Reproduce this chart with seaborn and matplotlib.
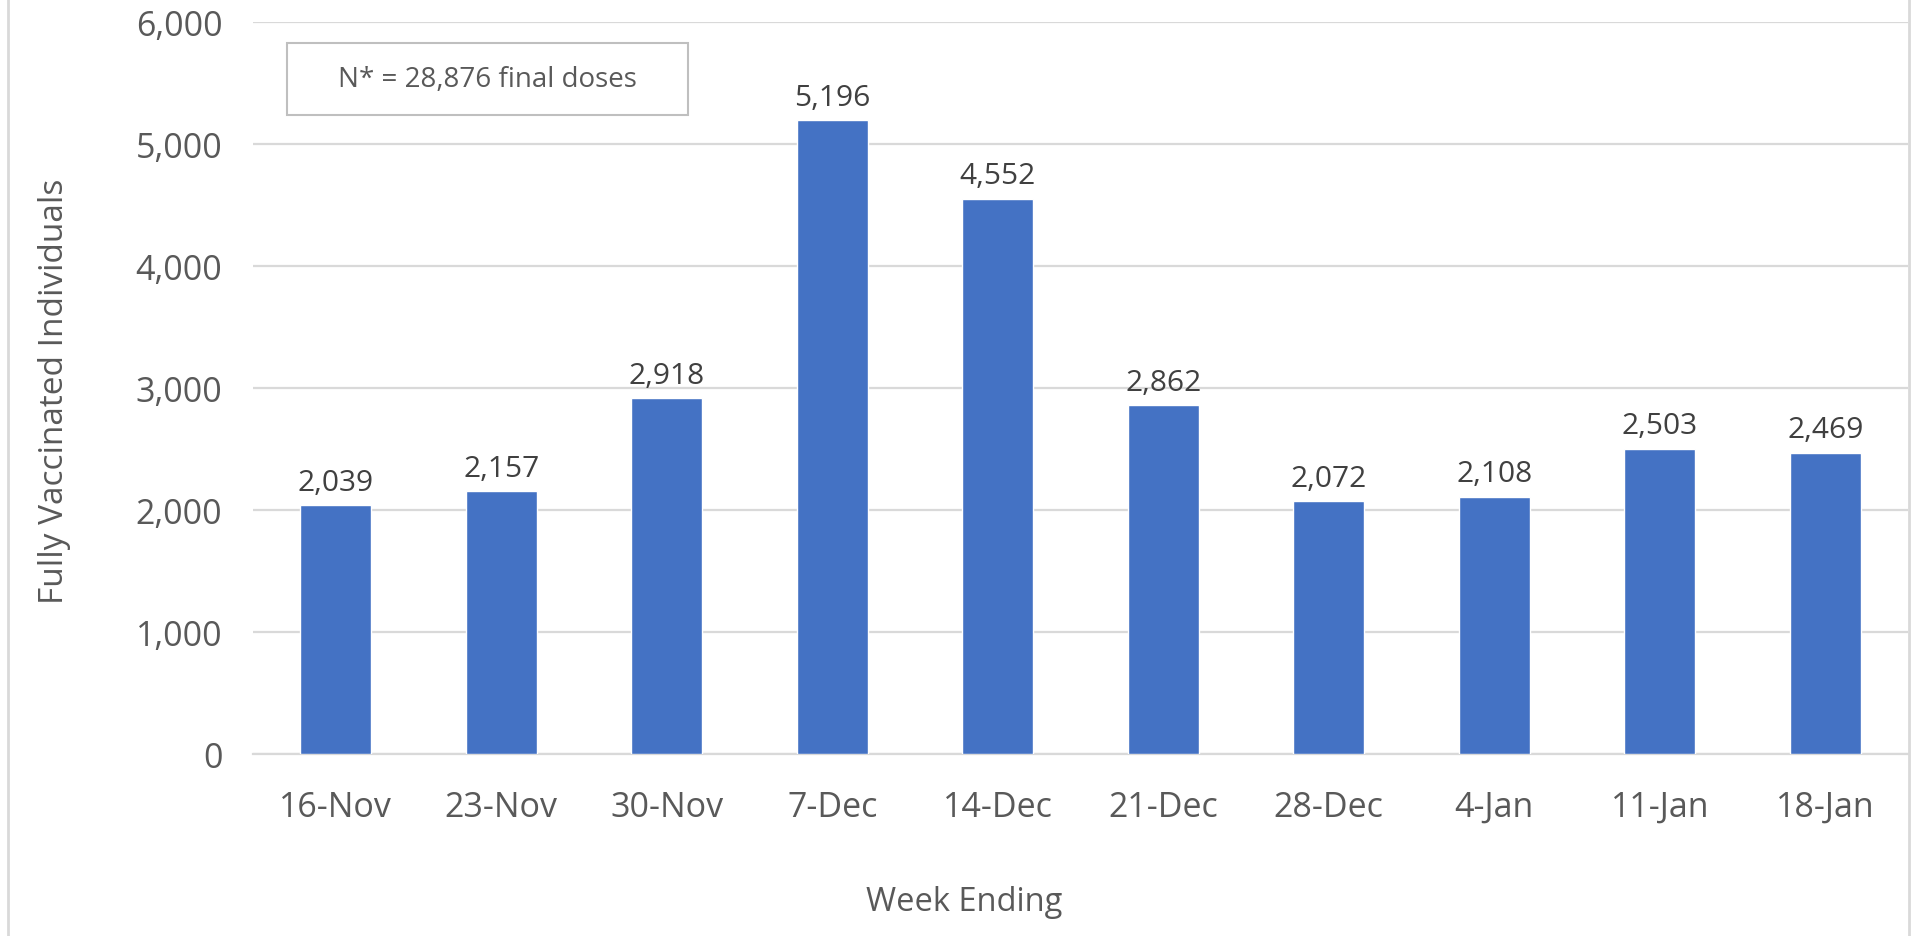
import matplotlib
matplotlib.use("Agg")
import matplotlib.pyplot as plt
import seaborn as sns
import pandas as pd
from matplotlib.patches import Rectangle
from matplotlib.lines import Line2D

# data
weeks = ['16-Nov', '23-Nov', '30-Nov', '7-Dec', '14-Dec', '21-Dec', '28-Dec', '4-Jan', '11-Jan', '18-Jan']
fully_vaccinated = [2039, 2157, 2918, 5196, 4552, 2862, 2072, 2108, 2503, 2469]
y_ticks = [0, 1000, 2000, 3000, 4000, 5000, 6000]
note = 'N* = 28,876 final doses'

df = pd.DataFrame({'Week Ending': weeks, 'Fully Vaccinated Individuals': fully_vaccinated})

sns.set_theme(style='white')
plt.rcParams['font.family'] = ['Open Sans', 'DejaVu Sans']

W, H = 1916, 937
fig = plt.figure(figsize=(W / 100, H / 100), dpi=100)
ax = fig.add_axes([253 / W, 1 - 755 / H, 1655 / W, 732 / H])

sns.barplot(data=df, x='Week Ending', y='Fully Vaccinated Individuals', color='#4472C4',
            width=0.43, saturation=1, ax=ax, zorder=3)

ax.bar_label(ax.containers[0], labels=[f'{v:,}' for v in fully_vaccinated],
             padding=6, fontsize=21.5, color='#404040')

# axes styling
ax.set_ylim(0, 6000)
ax.set_xlim(-0.5, len(weeks) - 0.5)
ax.set_yticks(y_ticks)
ax.set_yticklabels([f'{t:,}' for t in y_ticks])
ax.yaxis.grid(True, color='#d9d9d9', linewidth=1.6, zorder=0)
ax.xaxis.grid(False)
for side in ['top', 'right', 'left']:
    ax.spines[side].set_visible(False)
ax.spines['bottom'].set_color('#d9d9d9')
ax.spines['bottom'].set_linewidth(1.6)
ax.spines['bottom'].set_zorder(2)

ax.tick_params(axis='y', length=0, pad=22, labelsize=24.5, labelcolor='#595959')
ax.tick_params(axis='x', which='major', length=0, pad=26, labelsize=24.5, labelcolor='#595959')
ax.set_xticks([i - 0.5 for i in range(len(weeks) + 1)], minor=True)
ax.tick_params(axis='x', which='minor', length=8, width=1.6, color='#d9d9d9')
ax.set_xlabel('')
ax.set_ylabel('')

fig.text(55 / W, 1 - 391 / H, 'Fully Vaccinated Individuals', rotation=90,
         ha='center', va='center', fontsize=24, color='#595959')
fig.text(964 / W, 1 - 903 / H, 'Week Ending', ha='center', va='center',
         fontsize=23.5, color='#595959')

# annotation box
fig.add_artist(Rectangle((287 / W, 1 - 116 / H), 401 / W, 72 / H, transform=fig.transFigure,
                         facecolor='white', edgecolor='#bfbfbf', linewidth=1.5))
fig.text(487 / W, 1 - 80 / H, note, ha='center', va='center', fontsize=20, color='#595959')

# chart frame lines
for xpos in [8 / W, 1909 / W]:
    fig.add_artist(Line2D([xpos, xpos], [0, 1], transform=fig.transFigure,
                          color='#d9d9d9', linewidth=2))

fig.savefig('out.png', dpi=100, facecolor='white')
